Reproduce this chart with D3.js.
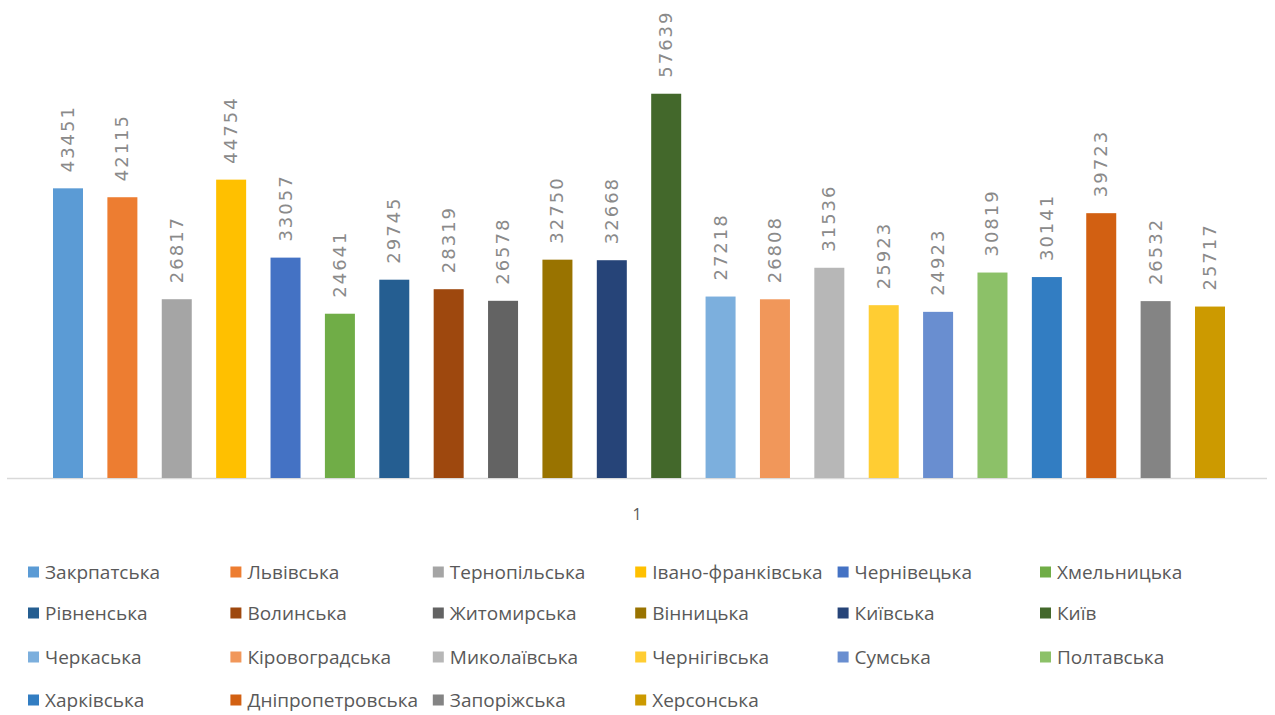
<!DOCTYPE html>
<html>
<head>
<meta charset="utf-8">
<script src="https://cdn.jsdelivr.net/npm/d3@7"></script>
<style>
  html, body { margin: 0; padding: 0; background: #fff; }
  svg { display: block; }
</style>
</head>
<body>
<svg id="chart" width="1275" height="715"></svg>
<script>
// Regions of Ukraine and their values
const regions = [
  "Закрпатська", "Львівська", "Тернопільська", "Івано-франківська", "Чернівецька", "Хмельницька",
  "Рівненська", "Волинська", "Житомирська", "Вінницька", "Київська", "Київ",
  "Черкаська", "Кіровоградська", "Миколаївська", "Чернігівська", "Сумська", "Полтавська",
  "Харківська", "Дніпропетровська", "Запоріжська", "Херсонська"
];
const values = [
  43451, 42115, 26817, 44754, 33057, 24641,
  29745, 28319, 26578, 32750, 32668, 57639,
  27218, 26808, 31536, 25923, 24923, 30819,
  30141, 39723, 26532, 25717
];
const colors = [
  "#5B9BD5", "#ED7D31", "#A5A5A5", "#FFC000", "#4472C4", "#70AD47",
  "#255E91", "#9E480E", "#636363", "#997300", "#264478", "#43682B",
  "#7CAFDD", "#F1975A", "#B7B7B7", "#FFCD33", "#698ED0", "#8CC168",
  "#327DC2", "#D26012", "#848484", "#CC9A00"
];
const categoryLabel = "1";

const svg = d3.select("#chart");
const baseY = 478;

const x = d3.scalePoint().domain(regions).range([68, 1210]);
const y = d3.scaleLinear().domain([0, 60000]).range([baseY, 78]);
const color = d3.scaleOrdinal().domain(regions).range(colors);
const barW = 30;

// baseline axis
svg.append("line")
  .attr("x1", 7).attr("x2", 1267)
  .attr("y1", baseY + 0.5).attr("y2", baseY + 0.5)
  .attr("stroke", "#d9d9d9").attr("stroke-width", 1.5);

// bars
svg.append("g").selectAll("rect")
  .data(regions)
  .join("rect")
  .attr("x", d => x(d) - barW / 2)
  .attr("width", barW)
  .attr("y", (d, i) => y(values[i]))
  .attr("height", (d, i) => baseY - y(values[i]))
  .attr("fill", d => color(d));

// value labels, rotated
svg.append("g").selectAll("text")
  .data(regions)
  .join("text")
  .attr("transform", (d, i) => `translate(${x(d) + 6},${y(values[i]) - 16}) rotate(-90)`)
  .attr("text-anchor", "start")
  .attr("font-family", "DejaVu Sans, sans-serif")
  .attr("font-size", 18)
  .attr("letter-spacing", 2)
  .attr("fill", "#8a8a8a")
  .text((d, i) => values[i]);

// category label
svg.append("text")
  .attr("x", 637).attr("y", 520)
  .attr("text-anchor", "middle")
  .attr("font-family", "Open Sans, sans-serif")
  .attr("font-size", 16)
  .attr("fill", "#595959")
  .text(categoryLabel);

// legend: 6 columns, 4 rows
const legendX = d3.scaleLinear().domain([0, 5]).range([28, 1040]);
const rowY = [572, 613, 657, 700];
const legend = svg.append("g").selectAll("g")
  .data(regions)
  .join("g")
  .attr("transform", (d, i) => `translate(${legendX(i % 6)},${rowY[Math.floor(i / 6)]})`);
legend.append("rect")
  .attr("x", 0).attr("y", -5.5).attr("width", 11).attr("height", 11)
  .attr("fill", d => color(d));
legend.append("text")
  .attr("x", 17).attr("y", 0)
  .attr("dy", "0.35em")
  .attr("font-family", "Open Sans, sans-serif")
  .attr("font-size", 19)
  .attr("fill", "#595959")
  .text(d => d);
</script>
</body>
</html>
